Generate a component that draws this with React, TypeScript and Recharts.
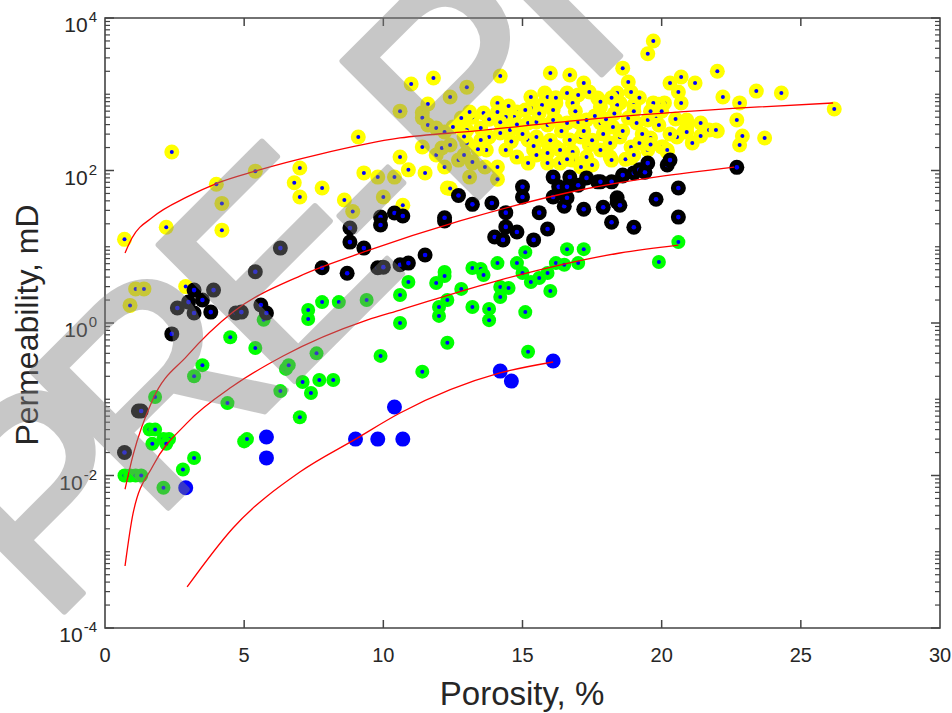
import React from 'react';
import { ScatterChart, Scatter, XAxis, YAxis, ReferenceArea } from 'recharts';

const FONT = '"Liberation Sans", Arial, Helvetica, sans-serif';
const TEXT = '#262626';
const AXIS = '#444444';

// plot frame edges in px (used for the inward tick marks)
const LEFT = 105;
const RIGHT = 940;
const TOP = 18;
const BOTTOM = 628;

// [porosity %, permeability mD], one list per rock class
const yellowPts: [number, number][] = [
  [2.4, 175], [0.7, 12.5], [2.2, 18], [4.0, 66], [4.2, 37], [4.2, 16.5], [5.4, 98], [7.0, 108],
  [6.8, 69], [7.0, 45], [7.8, 59], [8.6, 41], [8.9, 29], [9.1, 275], [9.3, 93], [9.8, 82],
  [10.4, 82], [10.0, 45], [10.7, 35], [2.9, 3.0], [1.1, 2.8], [1.4, 2.8], [0.9, 1.7],
  [11.0, 1360], [11.8, 1630], [11.6, 745], [12.4, 920], [13.0, 1240], [10.6, 600], [11.4, 570],
  [11.4, 490], [11.6, 395], [11.9, 360], [12.2, 320], [10.6, 150], [10.9, 102], [11.4, 203],
  [11.5, 93], [11.9, 160], [12.1, 197], [12.4, 216], [12.2, 111], [12.3, 59], [12.4, 58],
  [12.8, 372], [12.9, 432], [13.2, 500], [12.7, 137], [12.9, 160], [13.2, 125], [13.1, 82],
  [13.0, 230], [14.2, 1730], [16.0, 1900], [16.7, 1790], [17.2, 1400], [14.1, 77], [18.6, 2200],
  [19.5, 3400], [19.7, 5000], [20.7, 1680], [22.0, 2000], [18.8, 1450], [20.3, 1400], [21.2, 1400],
  [20.6, 1070], [18.9, 1070], [22.2, 920], [23.4, 1100], [22.8, 770], [22.7, 460], [22.9, 283],
  [22.8, 216], [22.0, 330], [21.4, 283], [21.7, 340], [21.1, 230], [20.9, 460], [20.5, 473],
  [20.7, 768], [20.1, 770], [19.9, 740], [19.7, 770], [18.5, 770], [18.4, 1040], [24.3, 1040],
  [23.7, 267], [26.2, 640], [20.2, 175], [20.0, 203], [20.9, 420], [21.95, 340], [20.8, 320],
  [20.55, 275], [15.3, 920], [15.8, 1040], [15.9, 920], [16.6, 1040], [17.0, 980], [17.4, 1070],
  [17.7, 890], [17.8, 680], [18.4, 723], [19.0, 723], [16.8, 768], [16.2, 768], [15.7, 723],
  [15.3, 660], [14.8, 585], [14.7, 503], [14.1, 768], [13.6, 567], [13.1, 585], [12.8, 489],
  [12.5, 372], [14.1, 585], [14.4, 503], [15.2, 420], [15.5, 432], [15.9, 395], [16.2, 459],
  [16.6, 420], [17.0, 432], [17.3, 459], [17.8, 420], [18.25, 372], [18.8, 489], [19.1, 420],
  [19.5, 459], [19.9, 395], [20.9, 372], [13.5, 360], [13.0, 340], [13.8, 275], [14.2, 310],
  [14.55, 340], [15.2, 251], [15.5, 275], [15.9, 230], [16.2, 203], [16.7, 251], [17.1, 275],
  [17.4, 216], [17.8, 186], [18.15, 230], [18.5, 275], [18.9, 203], [19.2, 230], [19.6, 267],
  [20.05, 203], [20.9, 320], [13.5, 251], [13.7, 186], [14.4, 186], [14.8, 150], [15.4, 186],
  [15.9, 170], [16.35, 186], [16.8, 175], [17.3, 150], [18.15, 150], [18.9, 146], [19.5, 186],
  [20.2, 186], [15.2, 125], [15.9, 125], [16.35, 125], [16.8, 137], [17.1, 111], [17.5, 118],
  [18.2, 137], [18.7, 140], [14.1, 111], [13.65, 111], [13.2, 129], [15.0, 300], [15.6, 560],
  [16.1, 620], [16.4, 330], [16.9, 600], [17.2, 330], [17.6, 520], [17.9, 300], [18.3, 560],
  [18.6, 330], [19.0, 600], [19.3, 300], [19.8, 520], [16.0, 250], [17.5, 250], [18.0, 470],
  [19.0, 160], [19.6, 220], [20.3, 300], [21.4, 420], [15.5, 160], [16.6, 140], [14.8, 400],
  [14.2, 430], [13.8, 470], [13.4, 190], [12.9, 280], [14.6, 240], [15.4, 210], [16.1, 460],
  [17.8, 800], [18.2, 900], [19.2, 900], [19.6, 600], [20.0, 600], [16.2, 900], [15.1, 620],
  [14.5, 700],
];

const greenPts: [number, number][] = [
  [3.5, 0.28], [3.2, 0.2], [1.8, 0.107], [4.4, 0.089], [1.6, 0.04], [1.8, 0.04], [1.7, 0.026],
  [2.1, 0.03], [2.3, 0.03], [2.2, 0.026], [3.2, 0.017], [2.8, 0.012], [2.1, 0.0069], [0.7, 0.01],
  [0.9, 0.01], [1.1, 0.01], [1.3, 0.01], [5.0, 0.028], [5.1, 0.03], [6.3, 0.128], [7.1, 0.168],
  [7.7, 0.179], [8.2, 0.179], [7.4, 0.121], [7.0, 0.058], [6.5, 0.25], [6.6, 0.28], [11.4, 0.23],
  [9.9, 0.37], [4.5, 0.65], [5.4, 0.47], [5.7, 1.1], [7.3, 1.48], [7.3, 1.13], [7.6, 0.4],
  [7.8, 1.88], [8.4, 1.88], [9.4, 2.0], [10.6, 2.33], [10.9, 3.45], [11.9, 3.35], [12.2, 4.67],
  [12.2, 4.13], [12.8, 2.8], [12.0, 1.62], [12.0, 1.24], [12.3, 2.0], [12.3, 0.55], [13.2, 5.26],
  [13.2, 1.62], [16.6, 9.3], [17.2, 9.3], [15.1, 8.5], [14.8, 6.1], [14.1, 6.1], [13.5, 5.1],
  [13.6, 4.26], [10.6, 1.0], [13.8, 1.53], [13.8, 1.09], [14.2, 2.19], [14.2, 2.97], [14.5, 2.88],
  [15.0, 4.53], [15.3, 3.45], [15.6, 3.89], [15.9, 4.53], [16.2, 6.1], [16.5, 5.8], [17.0, 6.1],
  [16.0, 2.63], [15.1, 1.39], [15.2, 0.42], [20.6, 11.5], [19.9, 6.3],
];

const blackPts: [number, number][] = [
  [0.7, 0.02], [1.2, 0.07], [1.3, 0.07], [2.4, 0.72], [2.6, 1.57], [3.0, 1.88], [3.2, 1.35],
  [3.5, 2.0], [3.8, 1.39], [3.2, 2.7], [3.9, 2.7], [4.7, 1.35], [4.9, 1.39], [5.6, 1.72],
  [5.8, 1.35], [5.4, 4.7], [6.3, 9.6], [8.8, 17.6], [8.8, 11.5], [9.3, 9.6], [9.9, 24.6],
  [9.9, 19.3], [10.4, 27.7], [10.7, 25.3], [12.2, 21.8], [11.5, 7.8], [9.8, 5.3], [10.0, 5.4],
  [10.6, 5.8], [10.9, 6.1], [7.8, 5.3], [8.7, 4.5], [12.7, 47], [13.2, 36], [13.9, 37.5],
  [15.0, 61], [15.0, 45], [16.1, 82], [16.3, 61], [16.6, 61], [16.7, 82], [17.0, 64], [17.3, 80],
  [17.7, 71], [18.2, 71], [18.6, 85], [19.0, 93], [19.2, 102], [19.4, 95], [19.5, 125],
  [20.2, 118], [20.3, 137], [22.7, 110], [20.6, 59], [19.8, 42], [18.4, 44], [17.9, 33],
  [17.2, 31], [16.5, 34], [15.6, 28], [14.4, 28], [14.0, 13.4], [14.3, 12.3], [14.4, 18.2],
  [14.8, 15.6], [15.4, 12.3], [15.9, 17.1], [20.6, 24.5], [18.2, 21], [19.0, 18], [18.4, 38.6],
  [18.5, 35], [18.6, 87], [17.8, 71], [16.1, 45], [16.6, 44], [12.2, 24],
];

const bluePts: [number, number][] = [
  [2.9, 0.0069], [5.8, 0.032], [5.8, 0.017], [9.0, 0.03], [9.8, 0.03], [10.7, 0.03],
  [10.4, 0.079], [14.2, 0.234], [14.6, 0.173], [16.1, 0.318],
];

// red trend lines
const curveYellow: [number, number][] = [
  [0.72, 8.3], [0.97, 13], [1.72, 24.5], [2.95, 45], [4.02, 68], [5.39, 98], [7.73, 164],
  [10.6, 267], [13.33, 330], [17.07, 459], [23.5, 681], [26.16, 768],
];
const curveBlack: [number, number][] = [
  [0.72, 0.0066], [1.01, 0.0186], [1.72, 0.1], [2.95, 0.37], [4.6, 1.39], [7.0, 4.13],
  [9.41, 8.8], [12.75, 21.8], [17.07, 55.5], [22.6, 111],
];
const curveGreen: [number, number][] = [
  [0.72, 0.00065], [1.01, 0.0032], [1.72, 0.0133], [2.95, 0.049], [4.6, 0.149], [6.4, 0.369],
  [9.41, 1.09], [10.6, 1.48], [14.19, 3.66], [18.5, 8.28], [20.6, 10.5],
];
const curveBlue: [number, number][] = [
  [2.95, 0.000345], [4.6, 0.00205], [7.0, 0.0111], [9.0, 0.03], [10.6, 0.066], [14.19, 0.221],
  [16.1, 0.308],
];

const xTicks = [0, 5, 10, 15, 20, 25, 30];
const yTicks = [1e-4, 1e-2, 1, 1e2, 1e4];
const minorMult = [1, 2, 3, 4, 5, 6, 7, 8, 9];
const decades = [-4, -3, -2, -1, 0, 1, 2, 3];
const yMinor = decades
  .flatMap((e) => minorMult.map((m) => m * Math.pow(10, e)))
  .filter((v) => !yTicks.some((t) => Math.abs(v / t - 1) < 1e-9));

// watermark letters and where each one sits along its slanted baseline
const stampLetters = ['P', 'R', 'E', '-', 'P', 'R', 'I', 'N', 'T'];
const stampPos = [68, 215, 394, 553, 654, 828, 1030, 1108, 1310];

const rows = (pts: [number, number][]) => pts.map(([phi, k]) => ({ phi, k }));

const ring = (fill: string, r: number, dot?: number) => (p: any) => (
  <g>
    <circle cx={p.cx} cy={p.cy} r={r} fill={fill} />
    {dot ? <circle cx={p.cx} cy={p.cy} r={dot} fill="#0000ff" /> : null}
  </g>
);
const noDot = () => <g />;

const tickStroke = { stroke: AXIS, strokeWidth: 1.5 };

// x labels plus inward ticks on the bottom and top frame
const XTick = (p: any) => {
  const v = p.payload.value;
  const inner = v > 0 && v < 30;
  return (
    <g>
      {inner && <line x1={p.x} x2={p.x} y1={BOTTOM} y2={BOTTOM - 8} {...tickStroke} />}
      {inner && <line x1={p.x} x2={p.x} y1={TOP} y2={TOP + 8} {...tickStroke} />}
      <text x={p.x} y={662} textAnchor="middle" fontSize={20} fontFamily={FONT} fill={TEXT}>
        {v}
      </text>
    </g>
  );
};

// 10^n labels plus inward major ticks on the left and right frame
const YTick = (p: any) => {
  const exp = Math.round(Math.log10(p.payload.value));
  return (
    <g>
      <line x1={LEFT} x2={LEFT + 9} y1={p.y} y2={p.y} {...tickStroke} />
      <line x1={RIGHT} x2={RIGHT - 9} y1={p.y} y2={p.y} {...tickStroke} />
      <text x={97} y={p.y + 14} textAnchor="end" fontFamily={FONT} fill={TEXT}>
        <tspan fontSize={21}>10</tspan>
        <tspan fontSize={15} dx={1} dy={-10}>{String(exp)}</tspan>
      </text>
    </g>
  );
};

const MinorTick = (p: any) => (
  <g>
    <line x1={LEFT} x2={LEFT + 5} y1={p.y} y2={p.y} stroke={AXIS} strokeWidth={1.2} />
    <line x1={RIGHT} x2={RIGHT - 5} y1={p.y} y2={p.y} stroke={AXIS} strokeWidth={1.2} />
  </g>
);

const xTitle = () => (
  <text x={522} y={705} textAnchor="middle" fontSize={33} fontFamily={FONT} fill={TEXT}>
    Porosity, %
  </text>
);
const yTitle = () => (
  <text x={38} y={325} transform="rotate(-90 38 325)" textAnchor="middle" fontSize={32} fontFamily={FONT} fill={TEXT}>
    Permeability, mD
  </text>
);

const lineStyle = { stroke: '#ff0000', strokeWidth: 1.3 };

export default function App() {
  return (
    <div style={{ position: 'absolute', left: 0, top: 0, width: 952, height: 713, background: '#fff' }}>
      <ScatterChart width={952} height={713} margin={{ top: 18, right: 0, bottom: 0, left: 0 }}>
        <XAxis
          type="number" dataKey="phi" domain={[0, 30]} ticks={xTicks} interval={0} allowDataOverflow
          height={85} tickLine={false} axisLine={false} tick={XTick} label={xTitle}
        />
        <YAxis
          type="number" dataKey="k" scale="log" domain={[1e-4, 1e4]} ticks={yTicks} interval={0} allowDataOverflow
          width={105} tickLine={false} axisLine={false} tick={YTick} label={yTitle}
        />
        <YAxis
          yAxisId="minor" orientation="right" type="number" scale="log" domain={[1e-4, 1e4]} ticks={yMinor}
          interval={0} allowDataOverflow width={12} tickLine={false} axisLine={false} tick={MinorTick}
        />

        <Scatter data={rows(yellowPts)} shape={ring('#ffff00', 7.5, 2)} isAnimationActive={false} />
        <Scatter data={rows(greenPts)} shape={ring('#00ff00', 7, 2)} isAnimationActive={false} />
        <Scatter data={rows(blackPts)} shape={ring('#000000', 7.5, 2.3)} isAnimationActive={false} />
        <Scatter data={rows(bluePts)} shape={ring('#0000ff', 7.5)} isAnimationActive={false} />

        <Scatter data={rows(curveYellow)} shape={noDot} line={lineStyle} lineJointType="monotoneX" isAnimationActive={false} />
        <Scatter data={rows(curveBlack)} shape={noDot} line={lineStyle} lineJointType="monotoneX" isAnimationActive={false} />
        <Scatter data={rows(curveGreen)} shape={noDot} line={lineStyle} lineJointType="monotoneX" isAnimationActive={false} />
        <Scatter data={rows(curveBlue)} shape={noDot} line={lineStyle} lineJointType="monotoneX" isAnimationActive={false} />

        <ReferenceArea
          x1={0} x2={30} y1={1e-4} y2={1e4} fill="none" fillOpacity={0}
          stroke={AXIS} strokeWidth={1.6} ifOverflow="visible"
        />
      </ScatterChart>

      <svg width={952} height={713} style={{ position: 'absolute', left: 0, top: 0, pointerEvents: 'none' }}>
        <g opacity={0.43}>
          <text
            transform="translate(0 676) rotate(-45)" fontSize={280} fontFamily={FONT}
            fill="#808080" stroke="#808080" strokeWidth={6} strokeLinejoin="round"
          >
            {stampLetters.map((c, i) => (
              <tspan key={i} x={stampPos[i]} y={0}>{c}</tspan>
            ))}
          </text>
        </g>
      </svg>
    </div>
  );
}
